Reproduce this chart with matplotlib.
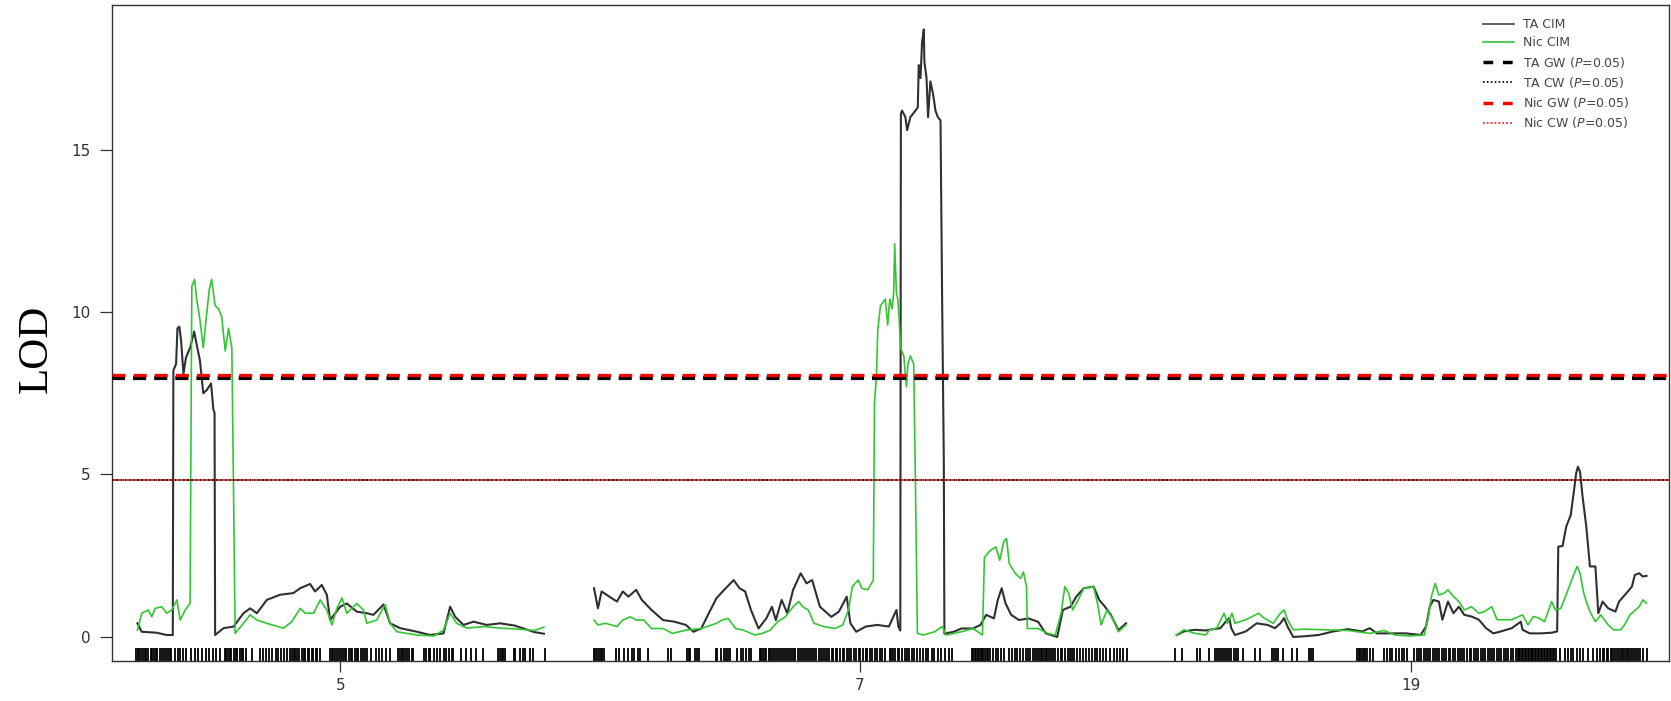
import matplotlib
matplotlib.use('Agg')
import matplotlib.pyplot as plt
from matplotlib.lines import Line2D

plt.rcParams['lines.scale_dashes'] = False

# chromosome layout (cM)
chroms = ['5', '7', '19']
chr_len = [210.5, 274.5, 243.0]
gap = 25.0
left_pad = 12.4
right_pad = 11.3

# CIM LOD profiles, position within chromosome (cM)
chr5_pos_ta = [0.7, 2.9, 10.6, 15.8, 18.9, 19.2, 20.6, 21.3, 22.3, 23.2, 24.4, 25.7, 27.8, 29.9, 31.2,
               32.9, 34.6, 36.4, 38.6, 39.8, 40.4, 40.7, 45.0, 50.2, 55.3, 58.7, 62.2, 67.3, 74.2, 81.0,
               84.5, 89.6, 92.2, 95.6, 98.2, 99.9, 105.1, 108.5, 113.6, 118.8, 122.2, 127.4, 130.8, 136.0, 144.6,
               151.4, 158.3, 161.7, 164.3, 168.6, 173.7, 180.6, 187.5, 195, 200, 205, 210]
chr5_lod_ta = [0.42, 0.16, 0.13, 0.06, 0.06, 8.2, 8.4, 9.5, 9.55, 9.1, 8.1, 8.6, 8.9, 9.4, 9.0,
               8.5, 7.5, 7.6, 7.8, 7.0, 6.9, 0.06, 0.27, 0.32, 0.73, 0.88, 0.73, 1.14, 1.3, 1.35,
               1.5, 1.63, 1.4, 1.6, 1.3, 0.52, 0.93, 1.03, 0.78, 0.73, 0.68, 1.0, 0.42, 0.27, 0.16,
               0.06, 0.11, 0.93, 0.62, 0.37, 0.47, 0.37, 0.42, 0.35, 0.25, 0.15, 0.1]
chr5_pos_nic = [0.7, 2.9, 6.3, 8.1, 9.8, 13.2, 15.8, 18.4, 21.0, 22.7, 25.3, 27.8, 28.7, 30.1, 31.2,
                32.9, 34.6, 36.0, 37.7, 38.9, 40.7, 42.4, 44.1, 45.9, 47.6, 49.3, 50.2, 51.0, 55.3, 58.7,
                62.2, 67.3, 75.9, 80.2, 84.5, 87.1, 91.4, 94.8, 98.2, 100.8, 103.4, 106.0, 108.5, 113.6, 117.1,
                118.8, 123.9, 128.2, 130.8, 134.3, 144.6, 153.2, 158.3, 161.7, 165.1, 170.3, 178.9, 187.5, 195, 205,
                210]
chr5_lod_nic = [0.21, 0.73, 0.83, 0.62, 0.88, 0.93, 0.73, 0.83, 1.14, 0.52, 0.83, 1.03, 10.8, 11.0, 10.4,
                9.75, 8.9, 9.75, 10.7, 11.0, 10.2, 10.1, 9.86, 8.8, 9.5, 8.9, 4.4, 0.11, 0.42, 0.68,
                0.52, 0.42, 0.27, 0.47, 0.88, 0.73, 0.73, 1.14, 0.83, 0.37, 0.88, 1.2, 0.73, 1.03, 0.83,
                0.42, 0.52, 1.0, 0.42, 0.16, 0.06, 0.03, 0.21, 0.73, 0.42, 0.27, 0.32, 0.27, 0.25, 0.2,
                0.3]

chr7_pos_ta = [0.3, 2.3, 4.2, 8.2, 12.1, 15.1, 18.0, 22.0, 24.9, 29.9, 35.8, 41.7, 47.6, 51.5, 55.5,
               59.4, 63.3, 67.3, 72.2, 75.2, 78.1, 81.1, 85.0, 89.0, 91.9, 93.9, 96.9, 99.8, 102.8, 106.7,
               109.7, 112.6, 116.6, 122.5, 126.4, 130.4, 132.3, 135.3, 140.2, 146.1, 152.1, 156.0, 157.0, 158.0, 158.3,
               158.9, 160.6, 161.5, 163.2, 165.8, 167.0, 167.5, 168.4, 169.2, 170.1, 170.4, 171.5, 172.3, 173.5, 174.9,
               176.1, 177.3, 178.7, 179.5, 180.4, 180.7, 185.5, 189.5, 195.4, 199.3, 202.2, 206.2, 208.2, 210.2, 212.2,
               215.1, 219.1, 224.0, 228.9, 232.9, 238.8, 241.7, 245.6, 248.6, 252.5, 257.5, 260.4, 263.4, 266.4, 270.3,
               274.2]
chr7_lod_ta = [1.5, 0.88, 1.4, 1.24, 1.09, 1.4, 1.24, 1.45, 1.14, 0.83, 0.52, 0.47, 0.37, 0.16, 0.26,
               0.73, 1.19, 1.45, 1.75, 1.5, 1.4, 0.83, 0.26, 0.57, 0.93, 0.52, 1.14, 0.73, 1.45, 1.96,
               1.65, 1.75, 0.93, 0.62, 0.78, 1.24, 0.42, 0.16, 0.32, 0.37, 0.32, 0.83, 0.32, 0.2, 16.1,
               16.2, 16.0, 15.6, 16.0, 16.2, 16.3, 17.6, 17.2, 18.3, 18.7, 17.7, 17.2, 16.0, 17.1, 16.7,
               16.2, 16.0, 15.9, 10.6, 5.4, 0.1, 0.16, 0.26, 0.26, 0.37, 0.68, 0.57, 1.14, 1.5, 1.03,
               0.68, 0.52, 0.57, 0.47, 0.11, 0.0, 0.83, 0.93, 1.24, 1.5, 1.55, 1.14, 0.93, 0.68, 0.21,
               0.42]
chr7_pos_nic = [0.3, 2.3, 6.2, 12.1, 15.1, 19.0, 22.0, 25.9, 29.9, 35.8, 40.7, 47.6, 55.5, 63.3, 66.3,
                69.3, 73.2, 77.2, 83.1, 87.0, 91.0, 94.9, 98.8, 102.8, 105.7, 107.7, 110.6, 113.6, 118.5, 124.4,
                128.4, 131.3, 133.3, 136.3, 138.2, 141.2, 144.1, 144.7, 145.7, 146.4, 147.8, 150.3, 151.5, 152.6, 153.8,
                154.6, 155.1, 156.0, 156.7, 157.5, 158.1, 159.8, 161.2, 161.9, 163.2, 164.9, 165.8, 166.8, 169.8, 175.7,
                179.6, 181.6, 189.5, 195.4, 200.3, 201.3, 204.3, 207.2, 209.2, 211.2, 212.7, 214.1, 217.1, 220.0, 221.4,
                223.0, 223.4, 228.9, 233.9, 237.8, 240.8, 242.7, 244.7, 246.7, 249.6, 252.5, 257.5, 259.5, 261.4, 264.4,
                267.3, 270.3, 274.2]
chr7_lod_nic = [0.52, 0.37, 0.42, 0.32, 0.52, 0.62, 0.52, 0.52, 0.26, 0.26, 0.11, 0.21, 0.26, 0.42, 0.52,
                0.57, 0.26, 0.21, 0.06, 0.11, 0.21, 0.47, 0.62, 0.93, 1.09, 0.93, 0.83, 0.42, 0.32, 0.26,
                0.37, 0.83, 1.55, 1.75, 1.5, 1.45, 1.75, 7.2, 8.0, 9.45, 10.2, 10.4, 9.6, 10.4, 10.1,
                10.6, 12.1, 10.6, 10.4, 9.7, 8.9, 8.65, 7.7, 8.4, 8.65, 8.4, 4.7, 0.11, 0.06, 0.16,
                0.32, 0.06, 0.16, 0.26, 0.06, 2.45, 2.66, 2.77, 2.36, 2.93, 3.03, 2.26, 1.96, 1.8, 2.0,
                1.55, 0.26, 0.26, 0.11, 0.06, 0.73, 1.55, 1.35, 0.83, 1.14, 1.5, 1.55, 1.03, 0.37, 0.83,
                0.57, 0.16, 0.37]

chr19_pos_ta = [0.8, 4.5, 10.1, 15.8, 19.5, 23.3, 26.1, 27.9, 28.9, 30.8, 36.4, 42.0, 47.6, 51.4, 54.2,
                56.1, 57.9, 60.8, 66.4, 73.9, 81.4, 88.9, 96.4, 100.2, 103.9, 111.4, 118.9, 126.4, 129.2, 131.1,
                133.0, 135.8, 137.6, 140.5, 143.3, 146.1, 148.9, 152.6, 156.4, 160.1, 163.9, 167.7, 173.3, 178.0, 178.9,
                182.6, 188.3, 193.9, 196.7, 197.3, 199.5, 201.4, 203.7, 205.2, 206.5, 207.4, 208.5, 209.8, 211.7, 213.6,
                216.4, 217.9, 220.1, 223.0, 226.7, 228.6, 232.4, 235.2, 236.7, 239.0, 240.8, 242.7]
chr19_lod_ta = [0.06, 0.17, 0.22, 0.2, 0.24, 0.27, 0.47, 0.58, 0.27, 0.06, 0.17, 0.42, 0.37, 0.27, 0.42,
                0.58, 0.32, 0.0, 0.02, 0.06, 0.17, 0.24, 0.17, 0.27, 0.11, 0.11, 0.11, 0.06, 0.32, 0.93,
                1.14, 1.09, 0.53, 1.09, 0.73, 0.93, 0.68, 0.63, 0.53, 0.27, 0.11, 0.17, 0.27, 0.47, 0.22,
                0.11, 0.11, 0.13, 0.17, 2.78, 2.8, 3.4, 3.75, 4.42, 5.04, 5.24, 5.08, 4.32, 3.4, 2.17,
                2.17, 0.73, 1.09, 0.88, 0.78, 1.09, 1.35, 1.55, 1.91, 1.96, 1.86, 1.88]
chr19_pos_nic = [0.8, 4.5, 10.1, 15.8, 17.7, 21.4, 25.2, 27.0, 29.3, 30.8, 36.4, 43.0, 45.8, 50.5, 54.2,
                 56.1, 57.9, 60.8, 66.4, 77.6, 88.9, 100.2, 107.6, 113.3, 120.8, 128.3, 130.1, 132.0, 133.9, 135.8,
                 138.6, 140.5, 143.3, 146.1, 148.9, 152.6, 156.4, 159.2, 163.0, 165.8, 173.3, 178.9, 181.7, 184.5, 187.4,
                 190.2, 193.9, 195.8, 198.6, 202.3, 205.2, 207.0, 208.5, 210.4, 211.7, 213.6, 216.4, 219.2, 223.0, 225.8,
                 229.5, 231.4, 234.2, 237.0, 238.9, 240.8, 242.7]
chr19_lod_nic = [0.06, 0.22, 0.11, 0.06, 0.22, 0.27, 0.73, 0.42, 0.73, 0.42, 0.53, 0.73, 0.58, 0.42, 0.73,
                 0.83, 0.53, 0.22, 0.24, 0.22, 0.2, 0.11, 0.2, 0.06, 0.03, 0.06, 0.53, 1.25, 1.65, 1.29,
                 1.35, 1.45, 1.25, 1.09, 0.83, 0.93, 0.73, 0.78, 0.93, 0.53, 0.53, 0.68, 0.37, 0.63, 0.58,
                 0.47, 1.09, 0.83, 0.88, 1.45, 1.91, 2.17, 1.96, 1.35, 1.09, 0.78, 0.47, 0.68, 0.37, 0.22,
                 0.22, 0.37, 0.68, 0.83, 0.93, 1.14, 1.04]

# marker positions (rug)
chr5_markers = [0, 0.8, 1.5, 2.6, 3.4, 4.5, 5.2, 6.3, 7.5, 8.1, 9.4, 10.2, 11.0, 12.3, 13.1, 14.5, 15.2, 16.4,
                17.3, 18.2, 19.8, 21.5, 22.6, 24.3, 25.9, 28.4, 30.2, 32.0, 33.7, 35.8, 37.5, 39.6, 41.2, 43.0,
                45.8, 46.5, 47.3, 48.4, 49.0, 50.2, 51.5, 52.1, 53.6, 54.4, 55.3, 56.8, 59.6,
                63.8, 65.5, 67.0, 68.6, 70.1, 71.8, 73.0, 74.6, 76.2, 77.5, 79.3, 80.4,
                81.2, 82.0, 83.1, 84.0, 85.2, 86.3, 87.0, 88.4, 89.2, 90.5, 91.3, 92.6, 93.4, 94.5,
                99.9, 100.7, 101.6, 102.4, 103.5, 104.6, 105.3, 106.4, 107.5, 108.2, 109.6, 110.5, 111.3, 112.7,
                113.6, 114.4, 115.8, 116.6, 117.9, 118.7, 121.0, 123.4, 125.0, 126.8, 128.5, 130.6,
                135.1, 135.9, 136.8, 137.6, 138.5, 139.7, 140.6, 141.9, 142.7, 148.0, 149.2, 150.6, 151.3,
                153.2, 155.0, 156.4, 158.3, 159.6, 161.0, 162.5, 163.3, 167.2, 170.1, 172.5, 175.0, 178.6,
                186.6, 187.4, 188.2, 189.1, 190.0, 194.5, 195.3, 197.8, 199.2, 200.1, 202.6, 204.4, 210.5]
chr7_markers = [0.2, 1.0, 1.9, 2.8, 3.7, 4.6, 5.5, 11.8, 13.2, 15.8, 17.9, 19.6, 21.0, 22.8, 24.2, 28.3,
                38.2, 40.0, 48.2, 49.0, 49.8, 52.5, 53.4, 54.6, 62.9, 63.8, 65.6, 67.0, 68.3, 69.2, 70.5,
                74.0, 75.8, 77.2, 78.5, 80.0, 81.3,
                85.6, 86.4, 87.3, 88.1, 89.0, 90.2, 91.0, 91.9, 93.1, 94.0, 94.8, 96.2, 97.0, 98.1, 99.3, 100.0,
                101.2, 102.4, 103.1, 104.0, 105.3, 106.1, 107.4, 108.2, 109.5, 110.3, 111.6, 112.4, 113.8, 114.5,
                115.9, 117.1, 118.0, 119.2, 120.4, 121.1, 122.6, 123.5, 124.9, 125.6, 127.0, 128.3, 129.1, 130.7,
                131.5, 132.8, 134.2, 135.0, 136.6, 137.4, 138.8, 140.1, 141.0, 142.5, 143.2, 144.9, 146.0, 147.3,
                148.6, 150.2, 152.6, 153.4, 154.3, 155.1, 156.6, 157.5, 158.9, 160.3, 161.2, 162.5, 164.0, 165.1,
                166.8, 168.3, 169.5, 171.0, 172.4, 174.1, 175.6, 177.3, 179.0, 181.2, 183.0, 184.8,
                194.9, 195.6, 196.3, 197.0, 197.8, 198.5, 199.3, 200.1, 200.8, 201.6, 202.4, 203.3, 204.1, 205.6,
                207.2, 208.5, 210.0, 211.4, 213.8, 215.4, 217.0, 218.2, 219.5, 221.3, 222.6, 223.8, 225.0, 226.1,
                227.3, 228.5, 229.6, 230.4, 231.2, 232.0, 232.9, 233.7, 234.6, 235.8, 236.5, 237.9, 239.2, 240.6,
                241.5, 242.8, 244.1, 245.4, 246.3, 247.6, 249.0, 250.5, 252.3, 253.8, 255.0, 256.6, 258.2, 259.5,
                261.0, 262.4, 264.1, 266.0, 267.8, 269.5, 271.2, 272.9, 274.5]
chr19_markers = [0.1, 3.4, 11.2, 12.9, 17.2, 20.6, 21.5, 22.4, 23.6, 24.5, 25.6, 26.8, 27.7, 28.9, 30.1, 31.4,
                 32.5, 35.2, 41.2, 43.8, 49.8, 50.8, 51.7, 53.1, 55.8, 60.1, 62.7, 68.7, 69.8, 71.1,
                 93.7, 94.5, 95.3, 96.2, 97.0, 97.9, 98.8, 100.5, 101.9, 107.4, 109.0, 110.6, 111.8, 113.9, 115.2,
                 116.6, 118.0, 119.2, 122.8, 124.3, 125.6, 126.5, 127.9, 129.0, 130.3, 131.2, 132.6, 133.8, 134.7,
                 136.0, 137.3, 138.2, 139.6, 140.8, 141.7, 143.1, 144.2, 145.4, 146.8, 147.7, 149.0, 150.3, 151.6,
                 152.5, 153.9, 155.0, 156.2, 157.3, 158.6, 159.8, 160.9, 162.1, 163.4, 164.3, 165.7, 166.9, 168.0,
                 169.3, 170.5, 171.4, 172.8, 174.0, 175.5, 176.3, 177.0, 177.8, 178.5, 179.2, 180.0, 180.7, 181.5,
                 182.2, 183.0, 183.7, 184.5, 185.2, 186.0, 186.7, 187.5, 188.2, 189.0, 189.8, 190.5, 191.3, 192.1,
                 192.9, 193.6, 194.4, 195.2, 196.3, 198.4, 200.5, 202.3, 203.6, 205.0, 206.8, 208.3, 210.0, 212.6,
                 215.1, 217.2, 219.0, 220.1, 221.0, 222.2, 223.0, 224.3, 225.1, 226.0, 227.2, 228.1, 229.3, 230.0,
                 230.8, 231.7, 232.5, 233.4, 234.2, 235.0, 236.1, 237.3, 238.4, 239.6, 240.8, 242.8]

# permutation thresholds
ta_gw, nic_gw = 7.96, 8.05
ta_cw, nic_cw = 4.84, 4.84

ta_color = '#303030'
nic_color = '#33c633'

profiles = [
    (chr5_pos_ta, chr5_lod_ta, chr5_pos_nic, chr5_lod_nic, chr5_markers),
    (chr7_pos_ta, chr7_lod_ta, chr7_pos_nic, chr7_lod_nic, chr7_markers),
    (chr19_pos_ta, chr19_lod_ta, chr19_pos_nic, chr19_lod_nic, chr19_markers),
]

W, H = 1671, 701
fig = plt.figure(figsize=(W / 100, H / 100), dpi=100)
ax = fig.add_axes([112 / W, 40 / H, 1557 / W, 656 / H])
ymin, ymax = -0.74, 19.45

offsets = []
start = left_pad
for L in chr_len:
    offsets.append(start)
    start += L + gap
xmax = offsets[-1] + chr_len[-1] + right_pad

for off, (pt, lt, pn, ln, mk) in zip(offsets, profiles):
    ax.plot([off + p for p in pt], lt, color=ta_color, lw=1.5, zorder=3)
    ax.plot([off + p for p in pn], ln, color=nic_color, lw=1.2, zorder=3)
    ax.vlines([off + m for m in mk], ymin, -0.34, color='black', lw=1.3, zorder=2)

# threshold lines
ax.axhline(ta_gw, color='black', lw=3.0, linestyle=(0, (9.4, 5.8)), zorder=4)
ax.axhline(nic_gw, color='red', lw=2.4, linestyle=(0, (9.4, 5.8)), zorder=4)
ax.axhline(ta_cw, color='black', lw=1.3, linestyle=(0, (1.4, 1.6)), zorder=4)
ax.axhline(nic_cw, color='red', lw=1.3, linestyle=(1.5, (1.4, 1.6)), zorder=4)

ax.set_xlim(0, xmax)
ax.set_ylim(ymin, ymax)
ax.set_yticks([0, 5, 10, 15])
ax.set_xticks([off + L / 2 for off, L in zip(offsets, chr_len)])
ax.set_xticklabels(chroms)
ax.tick_params(axis='y', length=8.6, width=0.9, pad=7, labelsize=11, labelcolor='#333333', color='#333333')
ax.tick_params(axis='x', length=8, width=0.9, pad=4, labelsize=11, labelcolor='#333333', color='#333333')
for s in ax.spines.values():
    s.set_color('#333333')
    s.set_linewidth(1.0)

fig.text(36 / W, 1 - 349 / H, 'LOD', rotation=90, ha='center', va='center',
         fontsize=31, family='Liberation Serif')

handles = [
    Line2D([], [], color='#555555', lw=1.3),
    Line2D([], [], color=nic_color, lw=1.2),
    Line2D([], [], color='black', lw=2.5, linestyle=(0, (7, 7))),
    Line2D([], [], color='black', lw=1.2, linestyle=(0, (1.2, 1.6))),
    Line2D([], [], color='red', lw=2.5, linestyle=(0, (7, 7))),
    Line2D([], [], color='red', lw=1.2, linestyle=(0, (1.2, 1.6))),
]
labels = ['TA CIM', 'Nic CIM', r'TA GW ($\mathit{P}$=0.05)', r'TA CW ($\mathit{P}$=0.05)',
          r'Nic GW ($\mathit{P}$=0.05)', r'Nic CW ($\mathit{P}$=0.05)']
leg = ax.legend(handles, labels, loc='upper left', bbox_to_anchor=(0.8805, 0.98), frameon=False,
                fontsize=9, handlelength=2.5, handletextpad=0.7, labelspacing=0.42,
                borderpad=0, borderaxespad=0)
for t in leg.get_texts():
    t.set_color('#444444')

fig.savefig('out.png', dpi=100)
